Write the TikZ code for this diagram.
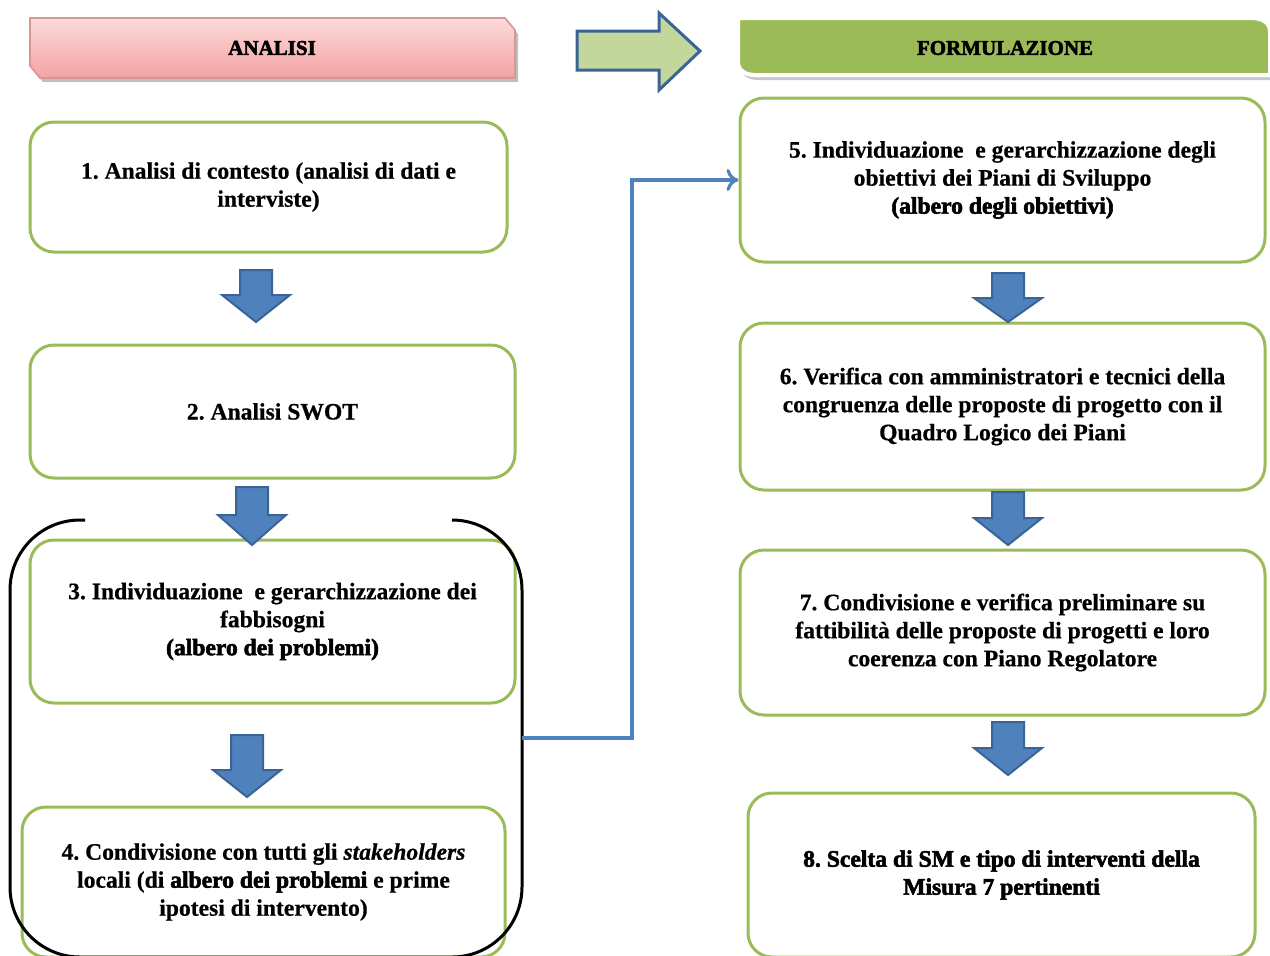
\documentclass[tikz,border=0pt]{standalone}
\usepackage{fontspec}
\setmainfont{Liberation Serif}[BoldFeatures={FakeBold=0.6},BoldItalicFeatures={FakeBold=0.6}]
\newfontfamily\heavyfont[FakeBold=2.4]{Liberation Serif Bold}
\usetikzlibrary{arrows.meta}
\definecolor{boxgreen}{HTML}{9BBB59}
\definecolor{arrblue}{HTML}{4F81BD}
\definecolor{arrborder}{HTML}{3A6496}
\definecolor{lightgreen}{HTML}{C3D69B}
\definecolor{pinktop}{HTML}{FCDADA}
\definecolor{pinkbot}{HTML}{F4A3A3}
\definecolor{pinkborder}{HTML}{D99594}
\newcommand\blockdown[4]{%
  \draw[blockarrow] (#1-16,#2) -- (#1+16,#2) -- (#1+16,#3) -- (#1+34,#3) -- (#1,#4) -- (#1-34,#3) -- (#1-16,#3) -- cycle;}
\begin{document}
\frenchspacing
\begin{tikzpicture}[x=0.5pt,y=-0.5pt,
  stepbox/.style={draw=boxgreen, line width=1.5pt, rounded corners=12pt, fill=white,
    align=center, inner sep=0pt, font=\fontsize{11.8}{14}\selectfont\bfseries\frenchspacing},
  blockarrow/.style={fill=arrblue, draw=arrborder, line width=1pt, line join=miter},
  headtext/.style={font=\fontsize{10.5}{12}\selectfont\heavyfont},
  heavytext/.style={font=\fontsize{11.8}{14}\selectfont\heavyfont\frenchspacing}
]
\useasboundingbox (0,0) rectangle (1270,955);
\clip (0,0) rectangle (1270,955);

% ANALISI header
\fill[black!25] (33,22) -- (508,22) -- (518,34) -- (518,82) -- (43,82) -- (33,70) -- cycle;
\shadedraw[top color=pinktop, bottom color=pinkbot, draw=pinkborder, line width=0.8pt]
  (30,18) -- (505,18) -- (515,30) -- (515,78) -- (40,78) -- (30,66) -- cycle;
\node[headtext] (hanalisi) at (272,48) {ANALISI};

% big right arrow
\draw[fill=lightgreen, draw=arrborder, line width=1.5pt, line join=miter]
  (577,31) -- (659,31) -- (659,13) -- (700,51) -- (659,90) -- (659,70) -- (577,70) -- cycle;

% FORMULAZIONE header
\fill[black!22] (741,22) -- (1252,22) .. controls (1264,22) and (1273,26) .. (1273,36) -- (1273,80)
  -- (758,80) .. controls (748,80) and (741,75) .. (741,67) -- cycle;
\draw[fill=boxgreen, draw=white, line width=2pt]
  (738,18) -- (1250,18) .. controls (1262,18) and (1270,22) .. (1270,32) -- (1270,75)
  -- (755,75) .. controls (745,75) and (738,70) .. (738,62) -- cycle;
\node[headtext] (hformulazione) at (1005,48) {FORMULAZIONE};

% boxes
\node[stepbox, minimum width=477*0.5pt, minimum height=130*0.5pt] (box1) at (268.5,187)
  {1. Analisi di contesto (analisi di dati e\\ interviste)};
\node[stepbox, minimum width=485*0.5pt, minimum height=133*0.5pt] (box2) at (272.5,411.5)
  {2. Analisi SWOT};
\node[stepbox, minimum width=485*0.5pt, minimum height=163*0.5pt] (box3) at (272.5,621.5)
  {3. Individuazione\ \ e gerarchizzazione dei\\ fabbisogni\\ {\heavyfont (albero dei problemi)}};
\node[stepbox, minimum width=483*0.5pt, minimum height=150*0.5pt] (box4) at (263.5,882)
  {4. Condivisione con tutti gli \textit{stakeholders}\\ locali (di {\heavyfont albero dei problemi} e prime\\ ipotesi di intervento)};
\node[stepbox, minimum width=525*0.5pt, minimum height=164*0.5pt] (box5) at (1002.5,180)
  {5. Individuazione\ \ e gerarchizzazione degli\\ obiettivi dei Piani di Sviluppo\\ {\heavyfont (albero degli obiettivi)}};
\node[stepbox, minimum width=525*0.5pt, minimum height=167*0.5pt] (box6) at (1002.5,406.5)
  {6. Verifica con amministratori\ e tecnici della\\ congruenza delle proposte\ di progetto\ con il\\ Quadro Logico dei Piani};
\node[stepbox, minimum width=525*0.5pt, minimum height=165*0.5pt] (box7) at (1002.5,632.5)
  {7. Condivisione e verifica preliminare su\\ fattibilità delle proposte\ di progetti e loro\\ coerenza\ con Piano Regolatore};
\node[stepbox, heavytext, minimum width=507*0.5pt, minimum height=164*0.5pt] (box8) at (1001.5,875)
  {8. Scelta di SM e tipo di interventi della\\ Misura 7 pertinenti};

% block arrows
\blockdown{256}{270}{295}{322}
\blockdown{252}{487}{515}{545}
\blockdown{247}{735}{770}{797}
\blockdown{1008}{273}{298}{322}
\blockdown{1008}{492}{518}{545}
\blockdown{1008}{722}{748}{775}

% black bracket
\draw[black, line width=1.5pt, rounded corners=35pt]
  (85,520) -- (10,520) -- (10,957) -- (522,957) -- (522,520) -- (452,520);
\coordinate (brk) at (522,738);

% blue connector
\draw[arrblue, line width=1.6pt, -{To[length=6pt,width=11pt]}]
  (brk) -- (632,738) -- (632,180) -- (box5.west);
\end{tikzpicture}
\end{document}
